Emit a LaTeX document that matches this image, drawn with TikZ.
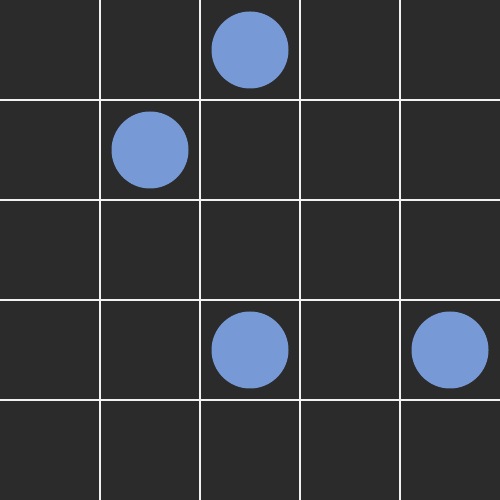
\documentclass[tikz,border=0pt]{standalone}
\usepackage{tikz}
\usetikzlibrary{positioning}
\definecolor{bgdark}{HTML}{2B2B2B}
\definecolor{dotblue}{HTML}{7799D6}

\begin{document}
\begin{tikzpicture}
    % nền tối
    \fill[bgdark] (0,0) rectangle (5,5);
    \useasboundingbox (0,0) rectangle (5,5);
    % lưới 5x5
    \foreach \k in {1,...,4} {
        \draw[white!90!gray, line width=0.3pt] (\k,0) -- (\k,5);
        \draw[white!90!gray, line width=0.3pt] (0,\k) -- (5,\k);
    }
    % các quân cờ (cột, hàng)
    \foreach \c/\r in {2/0, 1/1, 2/3, 4/3} {
        \fill[dotblue] (\c+0.5, 4.5-\r) circle (0.385);
    }
\end{tikzpicture}
\end{document}
